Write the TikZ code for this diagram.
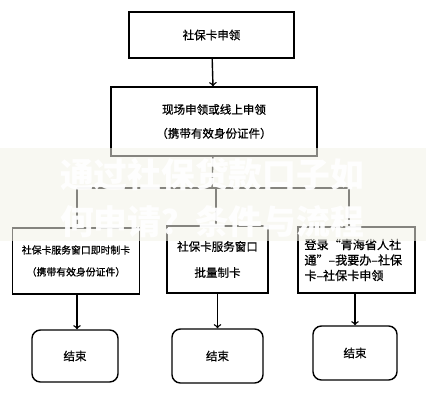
\documentclass[tikz,border=0pt]{standalone}
\usepackage{fontspec}
\newfontfamily\cjk[FakeBold=0.8]{Noto Sans CJK SC}
\newfontfamily\cjktitle{Noto Sans CJK SC}
\usetikzlibrary{arrows,positioning,calc}
\definecolor{bandcol}{RGB}{243,242,232}

\begin{document}
\begin{tikzpicture}[x=0.025cm, y=-0.025cm, line width=1pt, >=to,
  box/.style={draw=black, line width=1pt, align=center, inner sep=0pt,
    font=\cjk\fontsize{8.2}{17}\selectfont},
  endbox/.style={box, rounded corners=6pt},
  wmtext/.style={text=white, opacity=0.95, font=\cjktitle\bfseries\fontsize{24}{28}\selectfont}]
  \useasboundingbox (0,0) rectangle (426,400);

  \node (card) [box, minimum width=4.125cm, minimum height=1.15cm] at (211.5,35) {社保卡申领};
  \node (apply) [box, minimum width=5.15cm, minimum height=1.725cm] at (214,121.5) {现场申领或线上申领\\（携带有效身份证件）};

  \node (instant) [box, minimum width=3.175cm, minimum height=1.65cm, font=\cjk\fontsize{7}{15.6}\selectfont] at (76,261) {社保卡服务窗口即时制卡\\（携带有效身份证件）};
  \node (batch) [box, minimum width=2.525cm, minimum height=1.675cm, font=\cjk\fontsize{8.2}{18.5}\selectfont] at (217.5,259.5) {社保卡服务窗口\\批量制卡};
  \node (online) [box, minimum width=2.925cm, minimum height=1.65cm, align=left, text width=2.6cm, font=\cjk\fontsize{8.6}{11}\selectfont] at (356.5,260) {登录“青海省人社\\通”–我要办–社保\\卡–社保卡申领};

  \node (end1) [endbox, minimum width=2.15cm, minimum height=1.3cm] at (75,356) {结束};
  \node (end2) [endbox, minimum width=2.275cm, minimum height=1.35cm] at (217.5,356) {结束};
  \node (end3) [endbox, minimum width=2.1cm, minimum height=1.35cm] at (355,353) {结束};

  \coordinate (split) at (212,188);
  \coordinate (splitL) at (77,188);
  \coordinate (splitM) at (216,188);
  \coordinate (splitR) at (349,188);

  \path [->] (card) edge (apply);
  \draw (apply) -- (split);
  \draw (splitL) -- (splitR);
  \draw (splitL) -- (splitL |- instant.north);
  \draw (splitM) -- (splitM |- batch.north);
  \draw (splitR) -- (splitR |- online.north);
  \draw [->] (instant.south -| splitL) -- (splitL |- end1.north);
  \draw [->] (batch.south) -- (batch.south |- end2.north);
  \draw [->] ($(online.south)+(-1.5,0)$) -- ($(online.south |- end3.north)+(-1.5,0)$);

  % title band over the chart
  \fill [bandcol, opacity=0.55] (0,148) rectangle (426,241);
  \node (title1) [wmtext] at (212,175) {通过社保贷款口子如};
  \node (title2) [wmtext] at (212,222) {何申请？条件与流程};
\end{tikzpicture}
\end{document}
